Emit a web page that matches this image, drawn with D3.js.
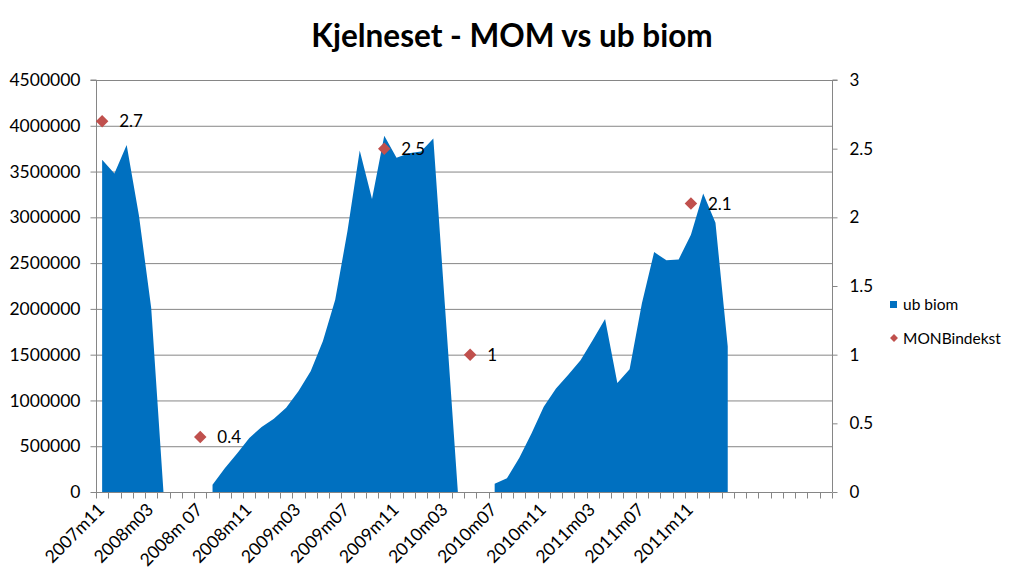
<!DOCTYPE html>
<html><head><meta charset="utf-8">
<script src="https://cdn.jsdelivr.net/npm/d3@7"></script>
<style>body{margin:0;background:#fff}svg{display:block}</style>
</head><body>
<svg id="chart" width="1024" height="586"></svg>
<script>
const categories = ["2007m11","2007m12","2008m01","2008m02","2008m03","2008m04","2008m05","2008m06","2008m 07","2008m08",
"2008m09","2008m10","2008m11","2008m12","2009m01","2009m02","2009m03","2009m04","2009m05","2009m06",
"2009m07","2009m08","2009m09","2009m10","2009m11","2009m12","2010m01","2010m02","2010m03","2010m04",
"2010m05","2010m06","2010m07","2010m08","2010m09","2010m10","2010m11","2010m12","2011m01","2011m02",
"2011m03","2011m04","2011m05","2011m06","2011m07","2011m08","2011m09","2011m10","2011m11","2011m12",
"2012m01","2012m02","","","","","","","",""];
const ubBiom = [3630000,3480000,3790000,3020000,2010000,0,null,null,null,80000,
260000,420000,590000,710000,800000,920000,1100000,1320000,1650000,2100000,
2850000,3730000,3200000,3890000,3650000,3700000,3720000,3860000,1930000,0,
null,null,90000,150000,370000,640000,930000,1130000,1280000,1440000,
1660000,1890000,1190000,1340000,2060000,2620000,2530000,2540000,2810000,3260000,
2940000,1590000,null,null,null,null,null,null,null,null];
const monbIndex = [2.7,null,null,null,null,null,null,null,0.4,null,
null,null,null,null,null,null,null,null,null,null,
null,null,null,2.5,null,null,null,null,null,null,
1,null,null,null,null,null,null,null,null,null,
null,null,null,null,null,null,null,null,2.1,null,
null,null,null,null,null,null,null,null,null,null];
const leftTicks = [0,500000,1000000,1500000,2000000,2500000,3000000,3500000,4000000,4500000];
const rightTicks = [0,0.5,1,1.5,2,2.5,3];
const seriesNames = ["ub biom","MONBindekst"];
const title = "Kjelneset - MOM vs ub biom";

const svg = d3.select("#chart");
const L = 96, R = 832, T = 80, B = 492;
const font = "Lato, 'Open Sans', sans-serif";
const idx = d3.range(categories.length);
const x = d3.scaleBand().domain(idx).range([L, R]).paddingInner(0).paddingOuter(0);
const cx = i => x(i) + x.bandwidth()/2;
const yL = d3.scaleLinear().domain([0,4500000]).range([B, T]);
const yR = d3.scaleLinear().domain([0,3]).range([B, T]);
const grid = "#868686";

// gridlines
svg.append("g").selectAll("line").data(leftTicks.filter(d=>d>0)).join("line")
  .attr("x1", L).attr("x2", R).attr("y1", d=>yL(d)+0.5).attr("y2", d=>yL(d)+0.5)
  .attr("stroke", grid).attr("stroke-width", 1);

// area
const area = d3.area().defined(d => d != null)
  .x((d,i) => cx(i)).y0(yL(0)).y1(d => yL(d));
svg.append("path").datum(ubBiom).attr("d", area).attr("fill", "#0070C0");

// left axis
const gl = svg.append("g").attr("transform", `translate(${L+0.5},0)`)
  .call(d3.axisLeft(yL).tickValues(leftTicks).tickSize(6).tickPadding(10).tickFormat(d3.format("d")));
gl.select(".domain").attr("stroke", grid).attr("d", `M-6,${T}H0V${B}`);
gl.selectAll(".tick line").attr("stroke", grid);
gl.selectAll(".tick text").attr("font-family", font).attr("font-size", 17.5).attr("fill", "#000");

// right axis
const gr = svg.append("g").attr("transform", `translate(${R+0.5},0)`)
  .call(d3.axisRight(yR).tickValues(rightTicks).tickSize(5).tickPadding(12).tickFormat(d=>String(d)));
gr.select(".domain").attr("stroke", grid).attr("d", `M5,${T}H0V${B}`);
gr.selectAll(".tick line").attr("stroke", grid);
gr.selectAll(".tick text").attr("font-family", font).attr("font-size", 17).attr("fill", "#000");

// bottom axis
const gb = svg.append("g").attr("transform", `translate(0,${B+0.5})`);
gb.append("line").attr("x1", L).attr("x2", R).attr("stroke", grid);
gb.selectAll("line.tk").data(d3.range(categories.length+1)).join("line").attr("class","tk")
  .attr("x1", i => Math.round(L + i*x.bandwidth())+0.5).attr("x2", i => Math.round(L + i*x.bandwidth())+0.5)
  .attr("y1", 0).attr("y2", 6).attr("stroke", grid);
gb.selectAll("text").data(idx.filter(i => i%4===0 && categories[i] !== "")).join("text")
  .attr("transform", i => `translate(${cx(i)-1},${14}) rotate(-45)`)
  .attr("text-anchor", "end").attr("dy", "0.35em")
  .attr("font-family", font).attr("font-size", 17.5).attr("fill", "#000")
  .text(i => categories[i]);

// markers
const pts = idx.filter(i => monbIndex[i] != null);
svg.append("g").selectAll("path").data(pts).join("path")
  .attr("d", d3.symbol(d3.symbolDiamond2, 100))
  .attr("transform", i => `translate(${cx(i)},${yR(monbIndex[i])})`)
  .attr("fill", "#C0504D");
svg.append("g").selectAll("text").data(pts).join("text")
  .attr("x", i => cx(i)+17).attr("y", i => yR(monbIndex[i])).attr("dy", "0.35em")
  .attr("font-family", font).attr("font-size", 17).attr("fill", "#000")
  .text(i => String(monbIndex[i]));

// title
svg.append("text").attr("x", 512).attr("y", 47).attr("text-anchor", "middle")
  .attr("font-family", font).attr("font-weight", "bold").attr("font-size", 31.5).attr("fill", "#000")
  .text(title);

// legend
const lg = svg.append("g");
lg.append("rect").attr("x", 890).attr("y", 301).attr("width", 7).attr("height", 7).attr("fill", "#0070C0");
lg.append("text").attr("x", 903).attr("y", 304.5).attr("dy", "0.35em").attr("font-family", font)
  .attr("font-size", 15.5).text(seriesNames[0]);
lg.append("path").attr("d", d3.symbol(d3.symbolDiamond2, 40)).attr("transform", "translate(894,338)").attr("fill", "#C0504D");
lg.append("text").attr("x", 903).attr("y", 338.5).attr("dy", "0.35em").attr("font-family", font)
  .attr("font-size", 15.5).text(seriesNames[1]);
</script>
</body></html>
